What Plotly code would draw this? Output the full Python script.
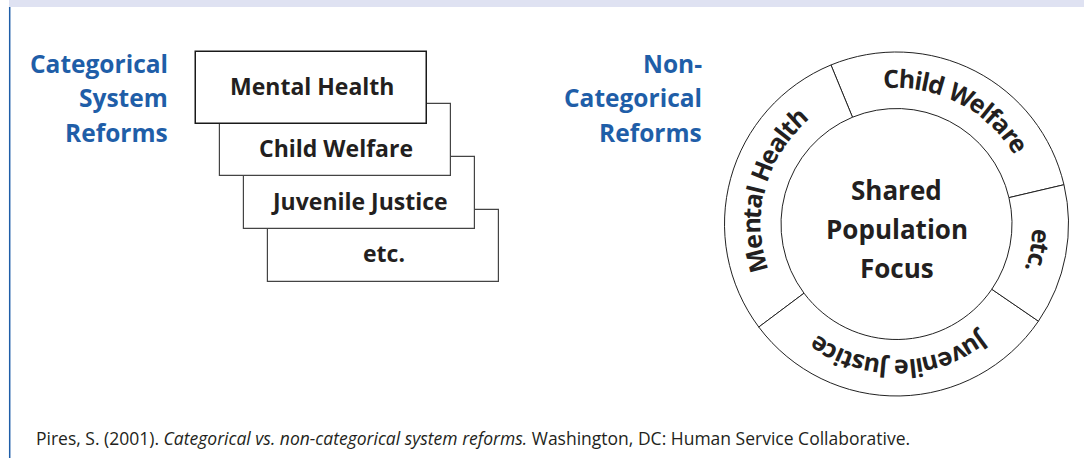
import math
import plotly.graph_objects as go

# ---------------- data ----------------
left_title = ["Categorical", "System", "Reforms"]
right_title = ["Non-", "Categorical", "Reforms"]
box_labels = ["Mental Health", "Child Welfare", "Juvenile Justice", "etc."]
ring_labels = ["Child Welfare", "Mental Health", "Juvenile Justice", "etc."]
ring_start_deg = [13.2, 112.4, 216.8, 325.6]   # counter-clockwise from 3 o'clock
ring_span_deg = [99.2, 104.4, 108.8, 47.6]
center_lines = ["Shared", "Population", "Focus"]
source_text = ("Pires, S. (2001). <i>Categorical vs. non-categorical system reforms.</i> "
               "Washington, DC: Human Service Collaborative.")

# ---------------- layout constants ----------------
W, H = 1084, 458
BLUE = "#1f5ea8"
INK = "#231f20"
FONT = "Open Sans"

BOX_X0, BOX_Y0, BOX_DX, BOX_DY, BOX_W, BOX_H = 196, 51.7, 24, 52.7, 231, 72
CX, CY, R_OUT, R_IN = 896.5, 224, 172, 115.5
R_DOM = R_OUT + 2
R_TXT = 146
RING_FS = 25

WIDTHS = {' ': 532, 'C': 1300, 'h': 1339, 'i': 614, 'l': 614, 'd': 1321, 'W': 1980,
          'e': 1186, 'f': 791, 'a': 1208, 'r': 920, 'M': 2000, 'n': 1339, 't': 848,
          'H': 1587, 'J': 700, 'u': 1339, 'v': 1147, 's': 1016, 'c': 1016, '.': 600}

fig = go.Figure()

# stacked category boxes (drawn back to front)
n = len(box_labels)
idx = list(range(n))[::-1]
fig.add_trace(go.Bar(
    orientation="h",
    y=[BOX_Y0 + i * BOX_DY + BOX_H / 2 for i in idx],
    x=[BOX_W for i in idx],
    base=[BOX_X0 + i * BOX_DX for i in idx],
    width=[BOX_H for i in idx],
    marker=dict(color="white",
                line=dict(color=["#1a1a1a" if i == 0 else "#444444" for i in idx],
                          width=[1.5 if i == 0 else 1.2 for i in idx])),
    hoverinfo="skip", showlegend=False,
))

# ring segments
fig.add_trace(go.Barpolar(
    r=[R_OUT - R_IN for _ in ring_labels],
    base=[R_IN for _ in ring_labels],
    theta=[s + w / 2 for s, w in zip(ring_start_deg, ring_span_deg)],
    width=ring_span_deg,
    marker=dict(color="white", line=dict(color="#222222", width=1)),
    hoverinfo="skip", showlegend=False,
))

ann = []
# box labels
for i, lab in enumerate(box_labels):
    top = BOX_Y0 + i * BOX_DY
    yc = top + BOX_H / 2 if i == 0 else top + BOX_H - BOX_DY / 2
    ann.append(dict(x=BOX_X0 + i * BOX_DX + BOX_W / 2, y=yc - 2, text=lab,
                    font=dict(family=FONT, size=23, color=INK, weight="bold")))

# titles
for k, t in enumerate(left_title):
    ann.append(dict(x=170, y=63 + 34.5 * k, text=t, xanchor="right",
                    font=dict(family=FONT, size=24.5, color=BLUE, weight="bold")))
for k, t in enumerate(right_title):
    ann.append(dict(x=704, y=63 + 34.5 * k, text=t, xanchor="right",
                    font=dict(family=FONT, size=24.5, color=BLUE, weight="bold")))

# center text
for k, t in enumerate(center_lines):
    ann.append(dict(x=CX, y=190 + 39 * k, text=t,
                    font=dict(family=FONT, size=26, color=INK, weight="bold")))

# curved ring labels, one glyph per annotation
for lab, s, w in zip(ring_labels, ring_start_deg, ring_span_deg):
    mid = math.radians(s + w / 2)
    ws = [WIDTHS.get(c, 1150) / 2048 * RING_FS for c in lab]
    th0 = mid + sum(ws) / 2 / R_TXT
    acc = 0
    for c, cw in zip(lab, ws):
        th = th0 - (acc + cw / 2) / R_TXT
        acc += cw
        if c == ' ':
            continue
        ang = 90 - math.degrees(th)
        ang = (ang + 180) % 360 - 180
        ann.append(dict(x=CX + R_TXT * math.cos(th), y=CY - R_TXT * math.sin(th),
                        text=c, textangle=ang,
                        font=dict(family=FONT, size=RING_FS, color=INK, weight="bold")))

# source
ann.append(dict(x=34, y=438, text=source_text, xanchor="left",
                font=dict(family=FONT, size=17.5, color=INK)))

for a in ann:
    a.setdefault("xref", "x")
    a.setdefault("yref", "y")
    a.setdefault("showarrow", False)
    a.setdefault("xanchor", "center")
    a.setdefault("yanchor", "middle")

shapes = [
    dict(type="rect", xref="x", yref="y", x0=9, x1=W, y0=0, y1=7,
         fillcolor="#dfe2f2", line=dict(width=0), layer="below"),
    dict(type="line", xref="x", yref="y", x0=9.7, x1=9.7, y0=7, y1=H,
         line=dict(color=BLUE, width=1.5)),
]

fig.update_layout(
    width=W, height=H, margin=dict(l=0, r=0, t=0, b=0),
    paper_bgcolor="white", plot_bgcolor="rgba(0,0,0,0)",
    xaxis=dict(range=[0, W], visible=False, domain=[0, 1], fixedrange=True),
    yaxis=dict(range=[H, 0], visible=False, domain=[0, 1], fixedrange=True),
    polar=dict(
        domain=dict(x=[(CX - R_DOM) / W, (CX + R_DOM) / W],
                    y=[1 - (CY + R_DOM) / H, 1 - (CY - R_DOM) / H]),
        bgcolor="rgba(0,0,0,0)",
        radialaxis=dict(range=[0, R_DOM], visible=False),
        angularaxis=dict(visible=False, rotation=0, direction="counterclockwise"),
    ),
    annotations=ann, shapes=shapes, bargap=0,
)

fig.write_html("out.html", config={"displayModeBar": False},
               post_script="document.body.style.margin='0';document.body.style.padding='0';"
                           "document.body.style.overflow='hidden';")
